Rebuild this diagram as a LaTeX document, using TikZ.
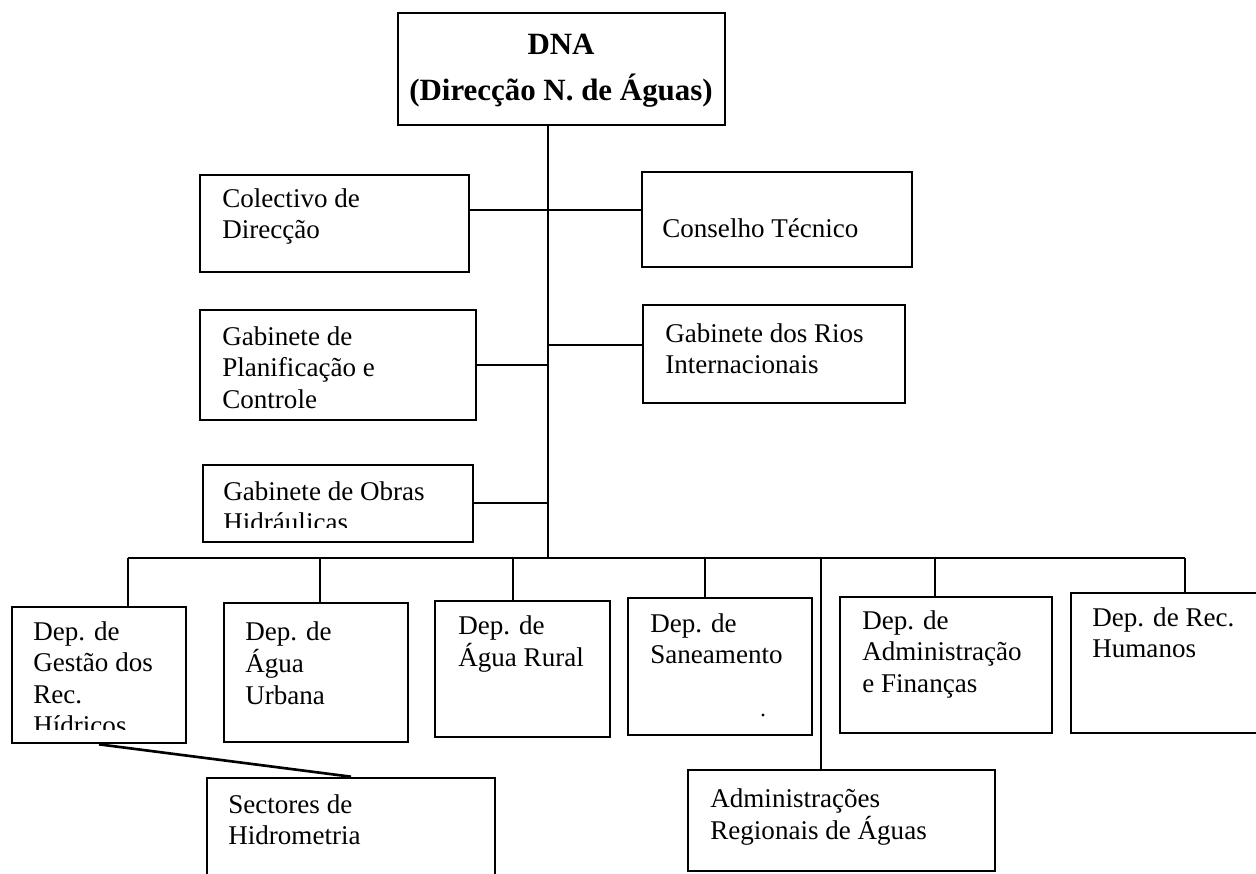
\documentclass[tikz,border=0pt]{standalone}
\usepackage{fontspec}
\setmainfont{Liberation Serif}
\usetikzlibrary{fit}
\newcommand\orgbox[5]{%
  \path (#2,#3) coordinate (#1-nw) (#4,#5) coordinate (#1-se);
  \node[box, fit=(#1-nw)(#1-se)] (#1) {};}
\newcommand\txtlines[1]{\begin{tabular}[t]{@{}l@{}}#1\end{tabular}}
\begin{document}
\begin{tikzpicture}[x=0.02cm, y=-0.02cm,
  box/.style={draw, line width=1.5pt, inner sep=0pt},
  conn/.style={line width=1.5pt},
  txt/.style={anchor=base west, inner sep=0pt, font=\fontsize{15.4}{18}\selectfont},
  headtxt/.style={anchor=base, inner sep=0pt, font=\fontsize{17.6}{21}\selectfont\bfseries}]
\clip (0,0) rectangle (1256,873);
\fill[white] (0,0) rectangle (1256,873);

% boxes
\orgbox{dna}{398}{13}{725}{125}
\orgbox{colectivo}{200}{175}{469}{272}
\orgbox{conselho}{642}{172}{912}{267}
\orgbox{plan}{200}{310}{476}{420}
\orgbox{rios}{643}{305}{905}{403}
\orgbox{obras}{203}{465}{473}{542}
\orgbox{gestao}{12}{607}{186}{743}
\orgbox{urbana}{224}{603}{408}{742}
\orgbox{rural}{435}{601}{610}{737}
\orgbox{saneam}{628}{598}{812}{735}
\orgbox{adfin}{840}{597}{1052}{733}
\orgbox{rechum}{1071}{593}{1275}{733}
\orgbox{sectores}{207}{778}{495}{900}
\orgbox{adreg}{688}{770}{995}{871}

% texts
\node[headtxt] (dnaA) at (561,54) {DNA};
\node[headtxt] (dnaB) at (561,100) {(Direcção N. de Águas)};
\node[txt] (colectivoT) at (222,207) {\txtlines{Colectivo de\\Direcção}};
\node[txt] (conselhoT) at (662,237) {Conselho Técnico};
\node[txt] (planT) at (222,345) {\txtlines{Gabinete de\\Planificação e\\Controle}};
\node[txt] (riosT) at (665,342) {\txtlines{Gabinete dos Rios\\Internacionais}};
\begin{scope}
  \clip (203,465) rectangle (473,527);
  \node[txt] (obrasT) at (223,500) {\txtlines{Gabinete de Obras\\Hidráulicas}};
\end{scope}
\begin{scope}
  \clip (12,607) rectangle (186,729);
  \node[txt] (gestaoT) at (33,640) {\txtlines{Dep. de\\Gestão dos\\Rec.\\Hídricos}};
\end{scope}
\node[txt] (urbanaT) at (245,640) {\txtlines{Dep. de\\Água\\Urbana}};
\node[txt] (ruralT) at (458,634) {\txtlines{Dep. de\\Água Rural}};
\node[txt] (saneamT) at (650,632) {\txtlines{Dep. de\\Saneamento}};
\node[txt] (adfinT) at (862,629) {\txtlines{Dep. de\\Administração\\e Finanças}};
\node[txt] (rechumT) at (1092,626) {\txtlines{Dep. de Rec.\\Humanos}};
\node[txt] (sectoresT) at (228,813) {\txtlines{Sectores de\\Hidrometria}};
\node[txt] (adregT) at (710,807) {\txtlines{Administrações\\Regionais de Águas}};
\fill (763,715) circle[radius=1.6];

% trunk and junctions
\coordinate (bus) at (548,558);
\coordinate (j1) at (548,210);
\coordinate (j2) at (548,365);
\coordinate (j3) at (548,345);
\coordinate (j4) at (548,503);
\draw[conn] (dna.south -| bus) -- (bus);
\draw[conn] (colectivo.east |- j1) -- (conselho.west |- j1);
\draw[conn] (plan.east |- j2) -- (j2);
\draw[conn] (j3) -- (rios.west |- j3);
\draw[conn] (obras.east |- j4) -- (j4);

% bus and drops
\coordinate (b1) at (128,558);
\coordinate (b2) at (320,558);
\coordinate (b3) at (513,558);
\coordinate (b4) at (705,558);
\coordinate (b5) at (935,558);
\coordinate (b6) at (1185,558);
\coordinate (b7) at (821,558);
\draw[conn] (b1) -- (b6);
\draw[conn] (b1) -- (b1 |- gestao.north);
\draw[conn] (b2) -- (b2 |- urbana.north);
\draw[conn] (b3) -- (b3 |- rural.north);
\draw[conn] (b4) -- (b4 |- saneam.north);
\draw[conn] (b5) -- (b5 |- adfin.north);
\draw[conn] (b6) -- (b6 |- rechum.north);
\draw[conn] (b7) -- (b7 |- adreg.north);
\draw[conn] (gestao.south) -- (sectores.north);
\end{tikzpicture}
\end{document}
